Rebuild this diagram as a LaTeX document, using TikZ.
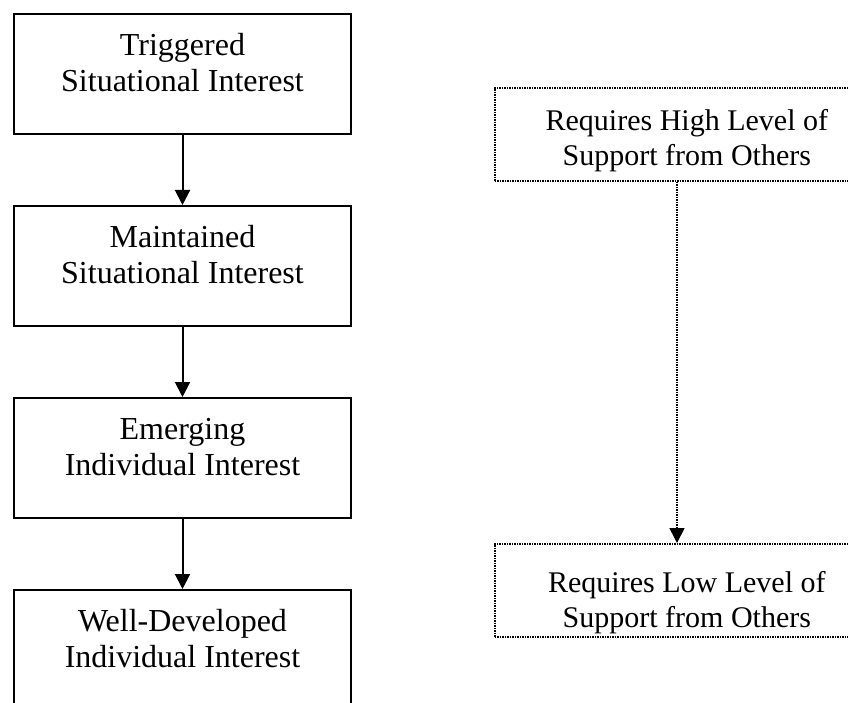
\documentclass[tikz,border=0pt]{standalone}
\usepackage{fontspec}
\setmainfont{Liberation Serif}
\usetikzlibrary{arrows.meta}
\begin{document}
\begin{tikzpicture}[x=1pt,y=-1pt,
  stage/.style={draw, line width=2.2pt, inner sep=0pt, minimum width=337pt,
    align=center, anchor=north, text height=77.5pt, text depth=42.5pt,
    font=\fontsize{32}{36.5}\selectfont},
  support/.style={draw, line width=1.7pt, dash pattern=on 1.5pt off 1pt,
    inner sep=0pt, minimum width=384pt, align=center, anchor=north west,
    font=\fontsize{30}{35}\selectfont},
  flow/.style={line width=2pt, -{Triangle[width=15pt,length=15pt]}},
  dotflow/.style={line width=1.7pt, dash pattern=on 1.5pt off 1pt,
    -{Triangle[width=15pt,length=15pt]}},
]
\useasboundingbox (0,0) rectangle (848,703);
\clip (0,0) rectangle (848,703);

% stages of interest development
\node[stage] (trig) at (182.5,13)  {Triggered\\Situational Interest};
\node[stage] (main) at (182.5,205) {Maintained\\Situational Interest};
\node[stage] (emer) at (182.5,397) {Emerging\\Individual Interest};
\node[stage] (well) at (182.5,589) {Well-Developed\\Individual Interest};

\draw[flow] (trig) -- (main);
\draw[flow] (main) -- (emer);
\draw[flow] (emer) -- (well);

% level of support needed
\node[support, text height=78pt, text depth=15pt] (high) at (494,87)
  {Requires High Level of\\Support from Others};
\node[support, text height=84pt, text depth=9pt] (low) at (494,543)
  {Requires Low Level of\\Support from Others};

\coordinate (axis) at (677,0);
\draw[dotflow] (high.south -| axis) -- (low.north -| axis);
\end{tikzpicture}
\end{document}
